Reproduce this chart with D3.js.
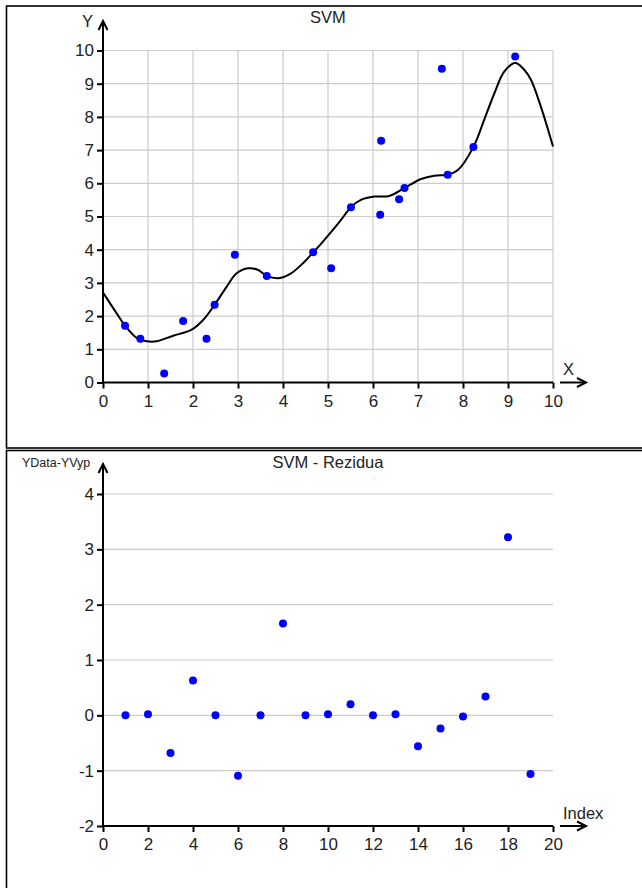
<!DOCTYPE html>
<html>
<head>
<meta charset="utf-8">
<script src="https://cdn.jsdelivr.net/npm/d3@7"></script>
<style>
  html, body { margin: 0; padding: 0; background: #fff; }
  svg { display: block; }
  text { font-family: "Liberation Sans", Arial, sans-serif; }
</style>
</head>
<body>
<svg id="chart" width="642" height="888"></svg>
<script>
// ---- Data ----
const pointsX = [0.49, 0.83, 1.36, 1.78, 2.30, 2.48, 2.93, 3.64, 4.67, 5.07,
                 5.51, 6.16, 6.18, 6.58, 6.70, 7.53, 7.66, 8.23, 9.16];
const pointsY = [1.71, 1.32, 0.27, 1.85, 1.32, 2.34, 3.85, 3.21, 3.92, 3.44,
                 5.28, 5.05, 7.28, 5.52, 5.86, 9.45, 6.26, 7.09, 9.82];

const curveX = [0, 0.30, 0.49, 0.75, 0.97, 1.19, 1.56, 1.97, 2.23, 2.48, 2.75, 2.97, 3.23, 3.45,
                3.64, 3.90, 4.16, 4.45, 4.67, 4.84, 5.08, 5.29, 5.51, 5.73, 6.03, 6.36, 6.70,
                7.07, 7.36, 7.66, 7.88, 8.23, 8.47, 8.70, 8.92, 9.16, 9.36, 9.51, 9.73, 10];
const curveY = [2.71, 2.09, 1.71, 1.34, 1.24, 1.24, 1.41, 1.59, 1.89, 2.34, 2.89, 3.29, 3.44, 3.39,
                3.21, 3.14, 3.27, 3.60, 3.92, 4.17, 4.55, 4.90, 5.28, 5.50, 5.60, 5.62, 5.86,
                6.13, 6.23, 6.26, 6.39, 7.09, 7.91, 8.72, 9.37, 9.62, 9.42, 9.12, 8.31, 7.11];

const residIndex = [1,2,3,4,5,6,7,8,9,10,11,12,13,14,15,16,17,18,19];
const residValue = [0.00, 0.02, -0.68, 0.63, 0.00, -1.09, 0.00, 1.66, 0.00, 0.02,
                    0.20, 0.00, 0.02, -0.56, -0.24, -0.02, 0.34, 3.22, -1.06];

const topXTicks = [0,1,2,3,4,5,6,7,8,9,10];
const topYTicks = [0,1,2,3,4,5,6,7,8,9,10];
const botXTicks = [0,2,4,6,8,10,12,14,16,18,20];
const botYTicks = [-2,-1,0,1,2,3,4];

const titleTop = "SVM";
const titleBot = "SVM - Rezidua";

// ---- Drawing ----
const svg = d3.select("#chart");
const GRID = "#cccccc";
const TXT = "#222";
const FONT = "Liberation Sans, Arial, sans-serif";

// panel frames
svg.append("rect").attr("x", 6.5).attr("y", 6).attr("width", 700).attr("height", 442)
  .attr("fill", "none").attr("stroke", "#000").attr("stroke-width", 1.6);
svg.append("rect").attr("x", 6.5).attr("y", 450.5).attr("width", 700).attr("height", 460)
  .attr("fill", "none").attr("stroke", "#000").attr("stroke-width", 1.6);

function drawAxes(g, x, y, xTicks, yTicks, xLabel, yLabel, opts) {
  const x0 = x.range()[0], x1 = x.range()[1];
  const y0 = y.range()[0], y1 = y.range()[1];
  // grid
  if (opts.vgrid) {
    g.append("g").selectAll("line").data(xTicks.filter(d => d !== xTicks[0])).join("line")
      .attr("x1", d => x(d)).attr("x2", d => x(d)).attr("y1", y0).attr("y2", y1)
      .attr("stroke", GRID).attr("stroke-width", 1.2);
  }
  g.append("g").selectAll("line").data(yTicks.filter(d => d !== yTicks[0])).join("line")
    .attr("x1", x0).attr("x2", x1).attr("y1", d => y(d)).attr("y2", d => y(d))
    .attr("stroke", GRID).attr("stroke-width", 1.2);

  // y axis
  const ya = g.append("g").attr("transform", `translate(${x0},0)`)
    .call(d3.axisLeft(y).tickValues(yTicks).tickSize(6).tickPadding(3).tickFormat(d => String(d)));
  ya.select(".domain").remove();
  ya.selectAll(".tick line").attr("stroke", "#000").attr("stroke-width", 2);
  ya.selectAll(".tick text").attr("font-size", 17).attr("fill", TXT).attr("font-family", FONT);

  // x axis
  const xa = g.append("g").attr("transform", `translate(0,${y0})`)
    .call(d3.axisBottom(x).tickValues(xTicks).tickSize(6).tickPadding(6).tickFormat(d => String(d)));
  xa.select(".domain").remove();
  xa.selectAll(".tick line").attr("stroke", "#000").attr("stroke-width", 2);
  xa.selectAll(".tick text").attr("font-size", 17).attr("fill", TXT).attr("font-family", FONT);

  // axis lines
  g.append("line").attr("x1", x0).attr("x2", x0).attr("y1", y0 + 1).attr("y2", opts.yTip)
    .attr("stroke", "#000").attr("stroke-width", 2);
  g.append("path").attr("d", `M${x0 - 4.5},${opts.yTip + 9}L${x0},${opts.yTip}L${x0 + 4.5},${opts.yTip + 9}`)
    .attr("fill", "none").attr("stroke", "#000").attr("stroke-width", 2);
  g.append("line").attr("x1", x0 - 1).attr("x2", x1).attr("y1", y0).attr("y2", y0)
    .attr("stroke", "#000").attr("stroke-width", 2);
  // separate arrow after x axis
  g.append("line").attr("x1", x1 + 7).attr("x2", x1 + 33).attr("y1", y0).attr("y2", y0)
    .attr("stroke", "#000").attr("stroke-width", 2);
  g.append("path").attr("d", `M${x1 + 24},${y0 - 4.5}L${x1 + 33},${y0}L${x1 + 24},${y0 + 4.5}`)
    .attr("fill", "none").attr("stroke", "#000").attr("stroke-width", 2);

  // axis labels
  g.append("text").attr("x", opts.xLabelX).attr("y", opts.xLabelY).attr("font-size", 16.5)
    .attr("fill", TXT).text(xLabel);
  g.append("text").attr("x", opts.yLabelX).attr("y", opts.yLabelY).attr("font-size", opts.yLabelSize)
    .attr("fill", TXT).text(yLabel);
}

// ---- Top chart ----
const xT = d3.scaleLinear().domain([0, 10]).range([103, 553]);
const yT = d3.scaleLinear().domain([0, 10]).range([382.5, 50.5]);
const gT = svg.append("g");
drawAxes(gT, xT, yT, topXTicks, topYTicks, "X", "Y",
  { vgrid: true, yTip: 21, xLabelX: 563, xLabelY: 375, yLabelX: 82, yLabelY: 27, yLabelSize: 16.5 });

gT.append("text").attr("x", 328).attr("y", 23).attr("text-anchor", "middle")
  .attr("font-size", 16.5).attr("fill", TXT).text(titleTop);

const line = d3.line().x((d, i) => xT(curveX[i])).y((d, i) => yT(curveY[i]))
  .curve(d3.curveCatmullRom.alpha(0.5));
gT.append("path").attr("d", line(curveX)).attr("fill", "none")
  .attr("stroke", "#000").attr("stroke-width", 2);

gT.append("g").selectAll("circle").data(pointsX).join("circle")
  .attr("cx", (d) => xT(d)).attr("cy", (d, i) => yT(pointsY[i])).attr("r", 4)
  .attr("fill", "#0000ff");

// ---- Bottom chart ----
const xB = d3.scaleLinear().domain([0, 20]).range([103, 553]);
const yB = d3.scaleLinear().domain([-2, 4]).range([826, 494]);
const gB = svg.append("g");
drawAxes(gB, xB, yB, botXTicks, botYTicks, "Index", "YData-YVyp",
  { vgrid: false, yTip: 464, xLabelX: 563, xLabelY: 819, yLabelX: 22, yLabelY: 467, yLabelSize: 12.5 });

gB.append("text").attr("x", 328).attr("y", 468).attr("text-anchor", "middle")
  .attr("font-size", 16.5).attr("fill", TXT).text(titleBot);

gB.append("g").selectAll("circle").data(residIndex).join("circle")
  .attr("cx", d => xB(d)).attr("cy", (d, i) => yB(residValue[i])).attr("r", 4)
  .attr("fill", "#0000ff");
</script>
</body>
</html>
